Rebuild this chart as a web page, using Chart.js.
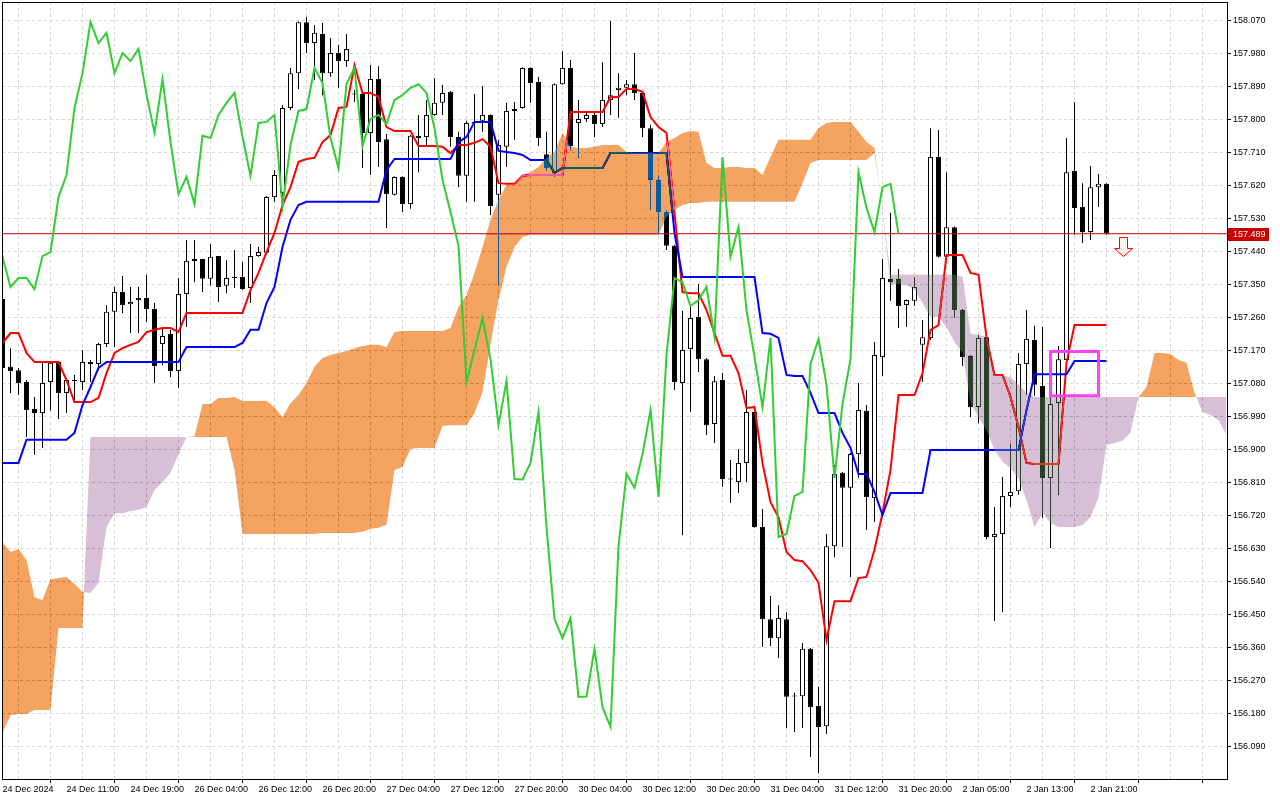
<!DOCTYPE html>
<html lang="en">
<head>
<meta charset="UTF-8" />
<title>USDJPY H1 Ichimoku</title>
<style>
  html, body { margin: 0; padding: 0; background: #fff; }
  #wrap { width: 1280px; height: 800px; }
</style>
</head>
<body>
<div id="wrap"><canvas id="chart" width="1280" height="800"></canvas></div>

<script src="https://cdn.jsdelivr.net/npm/chart.js"></script>
<script>
// H1 bars, bar 0 = 24 Dec 2024 03:00, last closed bar = 138
const opens = [
  157.311, 157.126, 157.117, 157.085, 157.011, 157.000, 157.085, 157.139, 157.055, 157.090,
  157.085, 157.139, 157.134, 157.188, 157.276, 157.330, 157.297, 157.308, 157.314, 157.284,
  157.188, 157.216, 157.115, 157.325, 157.415, 157.420, 157.366, 157.428, 157.347, 157.371,
  157.371, 157.341, 157.428, 157.437, 157.589, 157.600, 157.832, 157.927, 158.066, 158.009,
  158.034, 157.927, 157.982, 157.960, 157.870, 157.870, 157.764, 157.911, 157.747, 157.595,
  157.644, 157.570, 157.756, 157.753, 157.813, 157.846, 157.876, 157.753, 157.647, 157.791,
  157.797, 157.813, 157.595, 157.726, 157.824, 157.832, 157.941, 157.903, 157.706, 157.655,
  157.897, 157.941, 157.791, 157.802, 157.813, 157.788, 157.854, 157.881, 157.887, 157.897,
  157.873, 157.777, 157.636, 157.548, 157.456, 157.082, 157.175, 157.262, 157.147, 156.970,
  157.090, 156.820, 156.812, 156.864, 157.003, 156.689, 156.438, 156.386, 156.438, 156.228,
  156.228, 156.357, 156.201, 156.146, 156.637, 156.837, 156.796, 156.888, 157.006, 156.768,
  157.153, 157.366, 157.366, 157.295, 157.306, 157.186, 157.205, 157.698, 157.426, 157.507,
  157.281, 157.156, 157.016, 157.207, 156.662, 156.670, 156.774, 156.787, 157.134, 157.199,
  157.074, 156.823, 157.027, 157.145, 157.660, 157.562, 157.494, 157.616, 157.625
];
const highs = [
  157.316, 157.177, 157.123, 157.090, 157.044, 157.137, 157.139, 157.139, 157.096, 157.104,
  157.172, 157.145, 157.191, 157.295, 157.344, 157.374, 157.344, 157.344, 157.377, 157.300,
  157.232, 157.227, 157.368, 157.472, 157.472, 157.420, 157.461, 157.428, 157.417, 157.445,
  157.412, 157.461, 157.453, 157.592, 157.663, 157.840, 157.941, 158.068, 158.080, 158.058,
  158.064, 158.023, 158.004, 158.034, 157.881, 157.872, 157.949, 157.946, 157.761, 157.646,
  157.646, 157.758, 157.813, 157.854, 157.914, 157.895, 157.878, 157.767, 157.797, 157.870,
  157.892, 157.815, 157.745, 157.846, 157.848, 157.943, 157.943, 157.917, 157.767, 157.899,
  157.987, 157.963, 157.854, 157.821, 157.818, 157.957, 158.069, 157.927, 157.908, 157.982,
  157.875, 157.786, 157.647, 157.554, 157.458, 157.278, 157.289, 157.352, 157.150, 157.101,
  157.109, 156.872, 156.902, 157.063, 157.008, 156.738, 156.501, 156.476, 156.457, 156.237,
  156.373, 156.359, 156.253, 156.670, 156.858, 156.839, 156.891, 157.082, 157.022, 157.194,
  157.420, 157.546, 157.393, 157.310, 157.371, 157.254, 157.777, 157.772, 157.657, 157.509,
  157.283, 157.158, 157.213, 157.213, 156.744, 156.826, 156.916, 157.164, 157.281, 157.238,
  157.235, 157.044, 157.183, 157.750, 157.848, 157.627, 157.674, 157.652, 157.627
];
const lows = [
  157.117, 157.055, 157.049, 156.935, 156.886, 156.905, 157.006, 156.984, 157.000, 157.027,
  157.063, 157.085, 157.117, 157.180, 157.180, 157.273, 157.218, 157.218, 157.248, 157.082,
  157.131, 157.098, 157.068, 157.235, 157.357, 157.330, 157.347, 157.303, 157.327, 157.341,
  157.336, 157.300, 157.426, 157.431, 157.576, 157.589, 157.826, 157.884, 157.982, 157.908,
  157.867, 157.917, 157.887, 157.944, 157.848, 157.668, 157.649, 157.671, 157.505, 157.593,
  157.548, 157.557, 157.657, 157.726, 157.811, 157.813, 157.726, 157.616, 157.576, 157.576,
  157.767, 157.540, 157.349, 157.671, 157.745, 157.830, 157.846, 157.728, 157.660, 157.644,
  157.895, 157.717, 157.696, 157.794, 157.753, 157.780, 157.813, 157.805, 157.867, 157.854,
  157.753, 157.554, 157.491, 157.445, 157.063, 156.667, 157.003, 157.112, 156.940, 156.918,
  156.798, 156.755, 156.782, 156.812, 156.687, 156.362, 156.365, 156.332, 156.141, 156.130,
  156.141, 156.062, 156.018, 156.125, 156.607, 156.635, 156.553, 156.823, 156.681, 156.703,
  157.101, 157.306, 157.232, 157.235, 157.292, 157.085, 157.199, 157.424, 157.424, 157.259,
  157.128, 156.989, 156.973, 156.656, 156.433, 156.457, 156.744, 156.777, 157.049, 157.047,
  156.714, 156.632, 156.777, 157.145, 157.486, 157.464, 157.472, 157.562, 157.486
];
const closes = [
  157.123, 157.115, 157.082, 157.008, 157.000, 157.082, 157.137, 157.055, 157.090, 157.087,
  157.139, 157.134, 157.188, 157.276, 157.330, 157.295, 157.303, 157.314, 157.284, 157.128,
  157.210, 157.115, 157.325, 157.415, 157.420, 157.366, 157.426, 157.344, 157.368, 157.368,
  157.338, 157.428, 157.439, 157.589, 157.649, 157.832, 157.927, 158.066, 158.009, 158.037,
  157.927, 157.982, 157.960, 157.993, 157.869, 157.764, 157.911, 157.739, 157.597, 157.644,
  157.570, 157.756, 157.750, 157.813, 157.846, 157.873, 157.753, 157.647, 157.791, 157.794,
  157.813, 157.565, 157.731, 157.824, 157.829, 157.941, 157.900, 157.750, 157.668, 157.897,
  157.941, 157.728, 157.802, 157.813, 157.788, 157.854, 157.867, 157.887, 157.897, 157.873,
  157.777, 157.636, 157.548, 157.456, 157.085, 157.172, 157.259, 157.147, 156.967, 157.087,
  156.820, 156.819, 156.864, 157.003, 156.689, 156.438, 156.386, 156.441, 156.226, 156.227,
  156.357, 156.198, 156.144, 156.637, 156.834, 156.796, 156.888, 157.008, 156.771, 157.158,
  157.368, 157.357, 157.292, 157.308, 157.344, 157.207, 157.698, 157.426, 157.507, 157.281,
  157.153, 157.016, 157.205, 156.662, 156.670, 156.774, 156.785, 157.134, 157.202, 157.077,
  156.823, 157.025, 157.147, 157.657, 157.559, 157.494, 157.616, 157.625, 157.489
];

const tenkan = [
  157.191, 157.218, 157.218, 157.164, 157.139, 157.139, 157.139, 157.139, 157.090, 157.030,
  157.030, 157.030, 157.041, 157.109, 157.164, 157.177, 157.186, 157.194, 157.221, 157.227,
  157.232, 157.232, 157.221, 157.273, 157.273, 157.273, 157.273, 157.273, 157.273, 157.273,
  157.273, 157.336, 157.382, 157.439, 157.491, 157.567, 157.616, 157.685, 157.693, 157.696,
  157.739, 157.758, 157.832, 157.835, 157.949, 157.873, 157.873, 157.862, 157.780, 157.769,
  157.769, 157.769, 157.728, 157.728, 157.728, 157.726, 157.709, 157.731, 157.731, 157.737,
  157.747, 157.726, 157.627, 157.625, 157.625, 157.647, 157.649, 157.649, 157.649, 157.649,
  157.649, 157.821, 157.821, 157.821, 157.821, 157.821, 157.862, 157.862, 157.884, 157.884,
  157.876, 157.807, 157.780, 157.764, 157.546, 157.330, 157.327, 157.327, 157.281, 157.218,
  157.156, 157.156, 157.109, 157.014, 157.016, 156.864, 156.757, 156.716, 156.621, 156.599,
  156.596, 156.572, 156.537, 156.381, 156.487, 156.487, 156.487, 156.550, 156.553, 156.627,
  156.727, 156.845, 157.049, 157.049, 157.049, 157.109, 157.227, 157.240, 157.431, 157.431,
  157.431, 157.382, 157.377, 157.207, 157.104, 157.104, 157.044, 156.962, 156.864, 156.861,
  156.861, 156.861, 156.861, 157.137, 157.240, 157.240, 157.240, 157.240, 157.240
];
const kijun = [
  156.864, 156.864, 156.864, 156.927, 156.927, 156.927, 156.927, 156.927, 156.927, 156.946,
  157.022, 157.071, 157.123, 157.139, 157.139, 157.139, 157.139, 157.139, 157.139, 157.139,
  157.139, 157.139, 157.139, 157.180, 157.180, 157.180, 157.180, 157.180, 157.180, 157.180,
  157.191, 157.227, 157.227, 157.300, 157.344, 157.453, 157.527, 157.567, 157.576, 157.576,
  157.576, 157.576, 157.576, 157.576, 157.576, 157.576, 157.576, 157.576, 157.663, 157.693,
  157.693, 157.693, 157.693, 157.693, 157.693, 157.693, 157.693, 157.739, 157.753, 157.794,
  157.794, 157.794, 157.715, 157.712, 157.709, 157.704, 157.690, 157.690, 157.690, 157.655,
  157.668, 157.668, 157.668, 157.668, 157.668, 157.668, 157.709, 157.709, 157.709, 157.709,
  157.709, 157.709, 157.709, 157.709, 157.491, 157.371, 157.371, 157.371, 157.371, 157.371,
  157.371, 157.371, 157.371, 157.371, 157.371, 157.218, 157.216, 157.205, 157.104, 157.101,
  157.101, 157.055, 157.000, 157.000, 157.000, 156.946, 156.905, 156.834, 156.834, 156.785,
  156.722, 156.782, 156.782, 156.782, 156.782, 156.782, 156.899, 156.899, 156.899, 156.899,
  156.899, 156.899, 156.899, 156.899, 156.899, 156.899, 156.899, 156.899, 157.008, 157.106,
  157.106, 157.106, 157.106, 157.106, 157.142, 157.142, 157.142, 157.142, 157.142
];
// cloud runs 26 bars past the last candle
const senkouA = [
  156.648, 156.621, 156.629, 156.599, 156.498, 156.490, 156.547, 156.550, 156.553, 156.534,
  156.512, 156.509, 156.537, 156.689, 156.727, 156.727, 156.733, 156.736, 156.744, 156.790,
  156.812, 156.837, 156.886, 156.935, 156.937, 157.025, 157.025, 157.041, 157.041, 157.044,
  157.033, 157.033, 157.033, 157.033, 157.016, 156.989, 157.027, 157.049, 157.082, 157.126,
  157.150, 157.158, 157.164, 157.169, 157.177, 157.183, 157.186, 157.186, 157.180, 157.221,
  157.224, 157.224, 157.224, 157.224, 157.224, 157.224, 157.232, 157.289, 157.322, 157.382,
  157.453, 157.527, 157.581, 157.622, 157.622, 157.649, 157.657, 157.671, 157.696, 157.712,
  157.764, 157.726, 157.723, 157.723, 157.726, 157.731, 157.731, 157.731, 157.712, 157.709,
  157.709, 157.709, 157.709, 157.739, 157.750, 157.764, 157.769, 157.767, 157.682, 157.668,
  157.668, 157.671, 157.671, 157.668, 157.668, 157.649, 157.698, 157.745, 157.745, 157.745,
  157.745, 157.745, 157.777, 157.791, 157.794, 157.794, 157.794, 157.767, 157.739, 157.723,
  157.548, 157.349, 157.352, 157.349, 157.336, 157.300, 157.262, 157.262, 157.235, 157.194,
  157.164, 157.027, 156.989, 156.954, 156.899, 156.867, 156.850, 156.820, 156.763, 156.689,
  156.727, 156.700, 156.689, 156.689, 156.689, 156.695, 156.716, 156.770, 156.913, 156.918,
  156.925, 156.946, 157.044, 157.071, 157.164, 157.164, 157.161, 157.145, 157.137, 157.055,
  157.003, 156.995, 156.981, 156.940
];
const senkouB = [
  156.127, 156.176, 156.179, 156.179, 156.190, 156.190, 156.190, 156.414, 156.414, 156.414,
  156.414, 156.935, 156.935, 156.935, 156.935, 156.935, 156.935, 156.935, 156.935, 156.935,
  156.935, 156.935, 156.935, 156.935, 156.935, 156.935, 156.935, 156.935, 156.935, 156.845,
  156.670, 156.670, 156.670, 156.670, 156.670, 156.670, 156.670, 156.670, 156.670, 156.670,
  156.673, 156.673, 156.673, 156.673, 156.673, 156.676, 156.684, 156.687, 156.695, 156.845,
  156.853, 156.902, 156.905, 156.905, 156.905, 156.965, 156.967, 156.967, 156.967, 157.000,
  157.057, 157.186, 157.308, 157.398, 157.453, 157.480, 157.486, 157.486, 157.486, 157.486,
  157.486, 157.486, 157.486, 157.486, 157.486, 157.486, 157.486, 157.486, 157.486, 157.486,
  157.486, 157.486, 157.486, 157.535, 157.554, 157.567, 157.573, 157.573, 157.576, 157.576,
  157.576, 157.576, 157.576, 157.576, 157.576, 157.576, 157.576, 157.576, 157.576, 157.576,
  157.627, 157.682, 157.690, 157.690, 157.690, 157.690, 157.690, 157.690, 157.690, 157.709,
  157.554, 157.377, 157.377, 157.377, 157.377, 157.377, 157.377, 157.377, 157.377, 157.377,
  157.371, 157.216, 157.213, 157.207, 157.104, 157.101, 157.098, 157.077, 157.055, 157.044,
  157.044, 157.044, 157.044, 157.044, 157.044, 157.044, 157.044, 157.044, 157.044, 157.044,
  157.044, 157.044, 157.044, 157.044, 157.044, 157.044, 157.044, 157.044, 157.044, 157.044,
  157.044, 157.044, 157.044, 157.044
];
const chikouShift = 26;

const timeLabels = [
  '24 Dec 2024', '24 Dec 11:00', '24 Dec 19:00', '26 Dec 04:00', '26 Dec 12:00', '26 Dec 20:00',
  '27 Dec 04:00', '27 Dec 12:00', '27 Dec 20:00', '30 Dec 04:00', '30 Dec 12:00', '30 Dec 20:00',
  '31 Dec 04:00', '31 Dec 12:00', '31 Dec 20:00', '2 Jan 05:00', '2 Jan 13:00', '2 Jan 21:00'
];
const priceTicks = [
  158.070, 157.980, 157.890, 157.800, 157.710, 157.620, 157.530, 157.440, 157.350, 157.260,
  157.170, 157.080, 156.990, 156.900, 156.810, 156.720, 156.630, 156.540, 156.450, 156.360,
  156.270, 156.180, 156.090
];

const bidPrice = 157.489;
const boxBars = [131, 137];
const boxPrices = [157.168, 157.047];
const arrowBar = 140;
const arrowPrice = 157.479;

// visible window
const xMin = -0.0625, xMax = 153.0625;
const yMin = 156.002, yMax = 158.121;

const gridBars = [];
for (let b = 0; b <= 152; b += 4) gridBars.push(b);

Chart.defaults.font.family = '"Liberation Sans", Arial, sans-serif';
Chart.defaults.font.size = 9;
Chart.defaults.color = '#000';

const line = (values, x0) => values.map((v, i) => ({ x: i + x0, y: v }));

const datasets = [
  { label: 'wick', type: 'bar', order: 10, grouped: false,
    data: highs.map((h, i) => ({ x: i, y: [lows[i], h] })),
    backgroundColor: '#000', borderWidth: 0, barThickness: 1, maxBarThickness: 1, inflateAmount: 0 },
  { label: 'body', type: 'bar', order: 9, grouped: false,
    data: opens.map((o, i) => ({ x: i, y: [o, closes[i]] })),
    backgroundColor: opens.map((o, i) => closes[i] >= o ? '#ffffff' : '#000000'),
    borderColor: '#000', borderWidth: 1, borderSkipped: false, minBarLength: 1,
    barThickness: 5, maxBarThickness: 5, inflateAmount: 0 },
  { label: 'Tenkan-sen', type: 'line', order: 8, data: line(tenkan, 0),
    borderColor: '#ff0000', borderWidth: 2, pointRadius: 0, tension: 0 },
  { label: 'Kijun-sen', type: 'line', order: 7, data: line(kijun, 0),
    borderColor: '#0000ff', borderWidth: 2, pointRadius: 0, tension: 0 },
  { label: 'bid', type: 'line', order: 6,
    data: [{ x: xMin, y: bidPrice }, { x: xMax, y: bidPrice }],
    borderColor: '#c00000', borderWidth: 1, pointRadius: 0 },
  { label: 'Senkou Span B', type: 'line', order: 5, data: line(senkouB, 0),
    borderColor: 'rgba(0,0,0,0)', borderWidth: 0, pointRadius: 0, fill: false },
  // fill colours are the inverse of sandybrown / thistle: drawn with 'difference'
  // so they come out right on white and tint the candles/lines under them like MT does
  { label: 'Senkou Span A', type: 'line', order: 4, data: line(senkouA, 0),
    borderColor: 'rgba(0,0,0,0)', borderWidth: 0, pointRadius: 0,
    fill: { target: 5, above: '#0b5b9f', below: '#274027' } },
  { label: 'Chikou Span', type: 'line', order: 3, data: line(closes, -chikouShift),
    borderColor: '#32cd32', borderWidth: 2, pointRadius: 0, tension: 0 },
  { label: 'box', type: 'line', order: 2,
    data: [
      { x: boxBars[0], y: boxPrices[0] }, { x: boxBars[1], y: boxPrices[0] },
      { x: boxBars[1], y: boxPrices[1] }, { x: boxBars[0], y: boxPrices[1] },
      { x: boxBars[0], y: boxPrices[0] }, { x: boxBars[1], y: boxPrices[0] }
    ],
    borderColor: '#ff40ff', borderWidth: 3, pointRadius: 0, borderJoinStyle: 'miter' }
];

const chartBg = {
  id: 'chartBg',
  beforeDraw(chart) {
    const c = chart.ctx;
    c.save();
    c.fillStyle = '#ffffff';
    c.fillRect(0, 0, chart.width, chart.height);
    c.restore();
  }
};

const kumoBlend = {
  id: 'kumoBlend',
  afterDatasetDraw(chart, args) {
    const label = chart.data.datasets[args.index].label;
    if (label === 'Senkou Span B') chart.ctx.globalCompositeOperation = 'difference';
    if (label === 'Senkou Span A') chart.ctx.globalCompositeOperation = 'source-over';
  }
};

const overlay = {
  id: 'overlay',
  afterDraw(chart) {
    const c = chart.ctx, a = chart.chartArea;
    const xs = chart.scales.x, ys = chart.scales.y;
    c.save();
    c.globalCompositeOperation = 'source-over';
    c.strokeStyle = '#000';
    c.lineWidth = 1;
    c.strokeRect(a.left + 0.5, a.top + 0.5, a.right - a.left, a.bottom - a.top);

    // sell arrow
    const ax = Math.round(xs.getPixelForValue(arrowBar)) + 0.5;
    const ay = Math.round(ys.getPixelForValue(arrowPrice)) + 0.5;
    c.beginPath();
    c.moveTo(ax - 4, ay);
    c.lineTo(ax + 4, ay);
    c.lineTo(ax + 4, ay + 11);
    c.lineTo(ax + 9, ay + 11);
    c.lineTo(ax, ay + 19);
    c.lineTo(ax - 9, ay + 11);
    c.lineTo(ax - 4, ay + 11);
    c.closePath();
    c.fillStyle = '#fff4ef';
    c.fill();
    c.strokeStyle = '#ff0000';
    c.stroke();

    // bid price tag on the axis
    const by = ys.getPixelForValue(bidPrice);
    c.fillStyle = '#c80000';
    c.fillRect(a.right + 1, Math.round(by) - 6, 41, 13);
    c.fillStyle = '#ffffff';
    c.font = '9px "Liberation Sans", Arial, sans-serif';
    c.textAlign = 'left';
    c.textBaseline = 'middle';
    c.fillText(bidPrice.toFixed(3), a.right + 6, by + 0.5);
    c.restore();
  }
};

new Chart(document.getElementById('chart'), {
  type: 'bar',
  data: { datasets },
  options: {
    responsive: false,
    devicePixelRatio: 1,
    animation: false,
    events: [],
    layout: { padding: { left: 2, top: 2, right: 0, bottom: 0 } },
    plugins: { legend: { display: false }, tooltip: { enabled: false } },
    scales: {
      x: {
        type: 'linear', position: 'bottom', min: xMin, max: xMax, offset: false,
        afterBuildTicks: s => { s.ticks = gridBars.map(v => ({ value: v })); },
        afterFit: s => { s.height = 21; s.paddingLeft = 0; s.paddingRight = 0; },
        grid: {
          color: '#d6d6d6', lineWidth: 1, tickLength: 4, tickWidth: 1,
          tickColor: ctx => (ctx.tick && ctx.tick.value % 8 === 0) ? '#000' : 'rgba(0,0,0,0)'
        },
        border: { display: false, dash: [3, 3] },
        ticks: {
          autoSkip: false, maxRotation: 0, minRotation: 0, align: 'start', padding: 1,
          callback: v => v % 8 === 0 ? (timeLabels[v / 8] || '') : ''
        }
      },
      y: {
        type: 'linear', position: 'right', min: yMin, max: yMax,
        afterBuildTicks: s => { s.ticks = priceTicks.map(v => ({ value: v })); },
        afterFit: s => { s.width = 53; s.paddingTop = 0; s.paddingBottom = 0; },
        grid: { color: '#d6d6d6', lineWidth: 1, tickLength: 4, tickWidth: 1, tickColor: '#000' },
        border: { display: false, dash: [3, 3] },
        ticks: { autoSkip: false, padding: 2, callback: v => v.toFixed(3) }
      }
    }
  },
  plugins: [chartBg, kumoBlend, overlay]
});
</script>
</body>
</html>
